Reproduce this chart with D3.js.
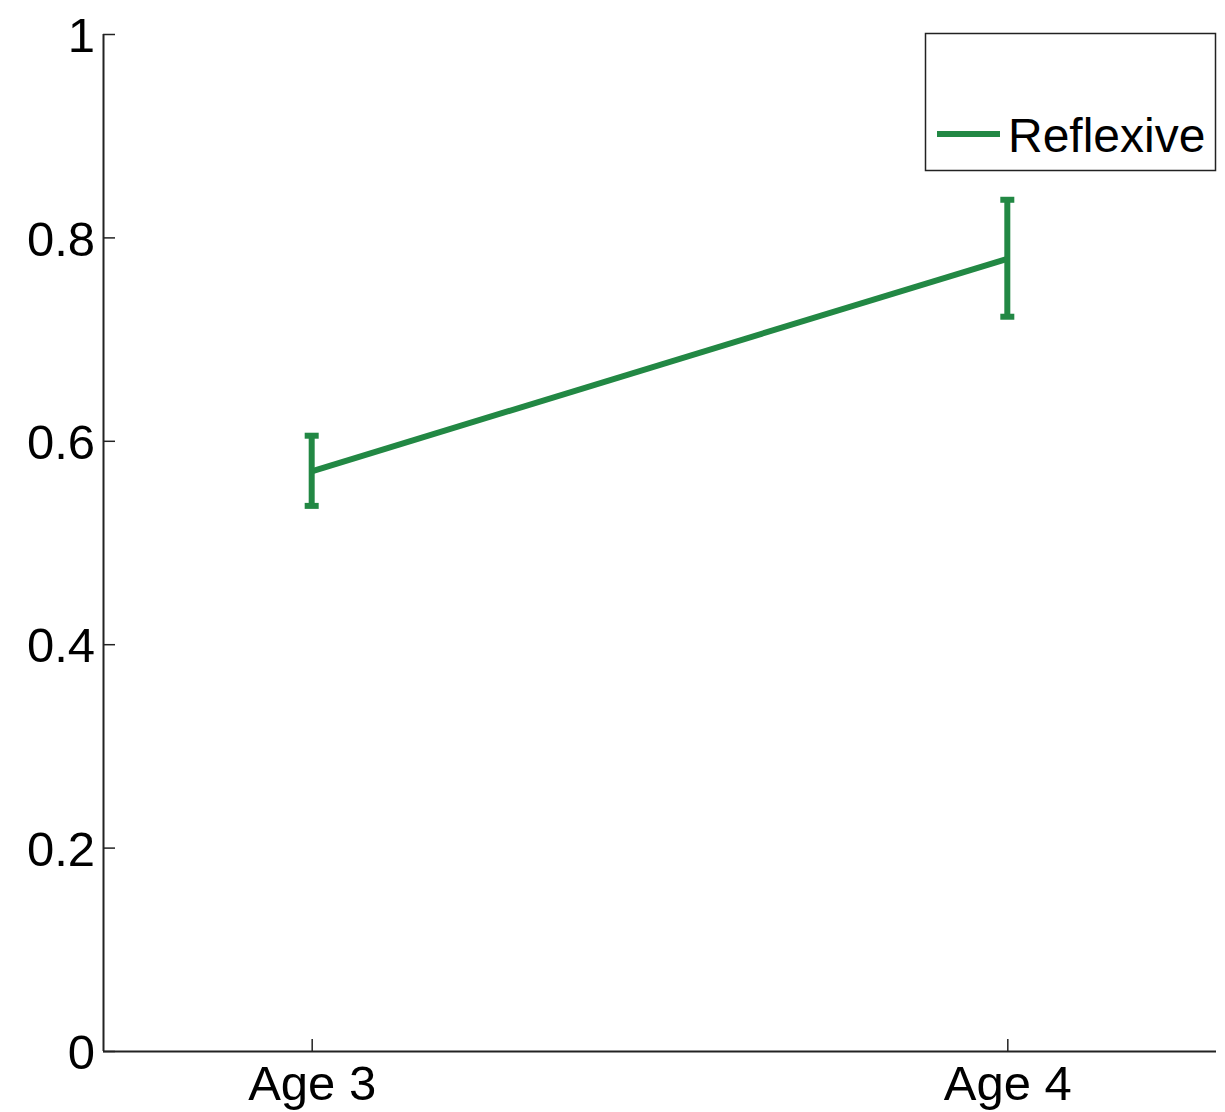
<!DOCTYPE html>
<html>
<head>
<meta charset="utf-8">
<script src="https://cdn.jsdelivr.net/npm/d3@7"></script>
<style>
  html, body { margin: 0; padding: 0; background: #fff; }
  svg { display: block; }
</style>
</head>
<body>
<svg id="chart" width="1225" height="1112"></svg>
<script>
// Data
const categories = ["Age 3", "Age 4"];
const xPositions = [1, 2];
const means = [0.570, 0.779];
const upper = [0.605, 0.837];
const lower = [0.536, 0.722];
const seriesName = "Reflexive";
const yTicks = [0, 0.2, 0.4, 0.6, 0.8, 1];
const yTickLabels = ["0", "0.2", "0.4", "0.6", "0.8", "1"];

(function () {
const color = "#228844";
const font = "'Liberation Sans', Arial, sans-serif";

const svg = d3.select("#chart");
const mLeft = 103, mRight = 1216, mTop = 34, mBottom = 1051;

const x = d3.scaleLinear().domain([0.7, 2.3]).range([mLeft, mRight]);
const y = d3.scaleLinear().domain([0, 1]).range([mBottom, mTop]);

// Axes
const yAxis = d3.axisLeft(y).tickValues(yTicks)
  .tickFormat((d, i) => yTickLabels[i]).tickSize(-12).tickPadding(8);
const xAxis = d3.axisBottom(x).tickValues(xPositions)
  .tickFormat((d, i) => categories[i]).tickSize(-12).tickPadding(14);

const gy = svg.append("g").attr("transform", `translate(${mLeft},0)`).call(yAxis);
const gx = svg.append("g").attr("transform", `translate(0,${mBottom})`).call(xAxis);

[gy, gx].forEach(g => {
  g.select(".domain").attr("stroke", "#222").attr("stroke-width", 2);
  g.selectAll(".tick line").attr("stroke", "#222").attr("stroke-width", 1.5);
  g.selectAll(".tick text").attr("fill", "#000").style("font-family", font).style("font-size", "49px");
});
gy.select(".domain").attr("d", `M0.5,${mTop}V${mBottom}`);
gx.select(".domain").attr("d", `M${mLeft},0.5H${mRight}`);
gy.selectAll(".tick text").attr("dy", "0.36em");
gx.selectAll(".tick text").attr("dy", "0.72em");

// Line
const pts = xPositions.map((d, i) => [x(d), y(means[i])]);
svg.append("path")
  .attr("d", d3.line()(pts))
  .attr("fill", "none").attr("stroke", color).attr("stroke-width", 6);

// Error bars
const capW = 7;
xPositions.forEach((d, i) => {
  const cx = x(d);
  const g = svg.append("g").attr("stroke", color).attr("stroke-width", 6).attr("fill", "none");
  g.append("line").attr("x1", cx).attr("x2", cx).attr("y1", y(upper[i])).attr("y2", y(lower[i]));
  g.append("line").attr("x1", cx - capW).attr("x2", cx + capW).attr("y1", y(upper[i])).attr("y2", y(upper[i]));
  g.append("line").attr("x1", cx - capW).attr("x2", cx + capW).attr("y1", y(lower[i])).attr("y2", y(lower[i]));
});

// Legend
const lg = svg.append("g");
lg.append("rect").attr("x", 925.5).attr("y", 33.5).attr("width", 290).attr("height", 137)
  .attr("fill", "#fff").attr("stroke", "#222").attr("stroke-width", 1.5);
lg.append("line").attr("x1", 937).attr("x2", 1000).attr("y1", 134).attr("y2", 134)
  .attr("stroke", color).attr("stroke-width", 6);
lg.append("text").attr("x", 1008).attr("y", 152).text(seriesName)
  .style("font-family", font).style("font-size", "48px").attr("fill", "#000");
})();
</script>
</body>
</html>
